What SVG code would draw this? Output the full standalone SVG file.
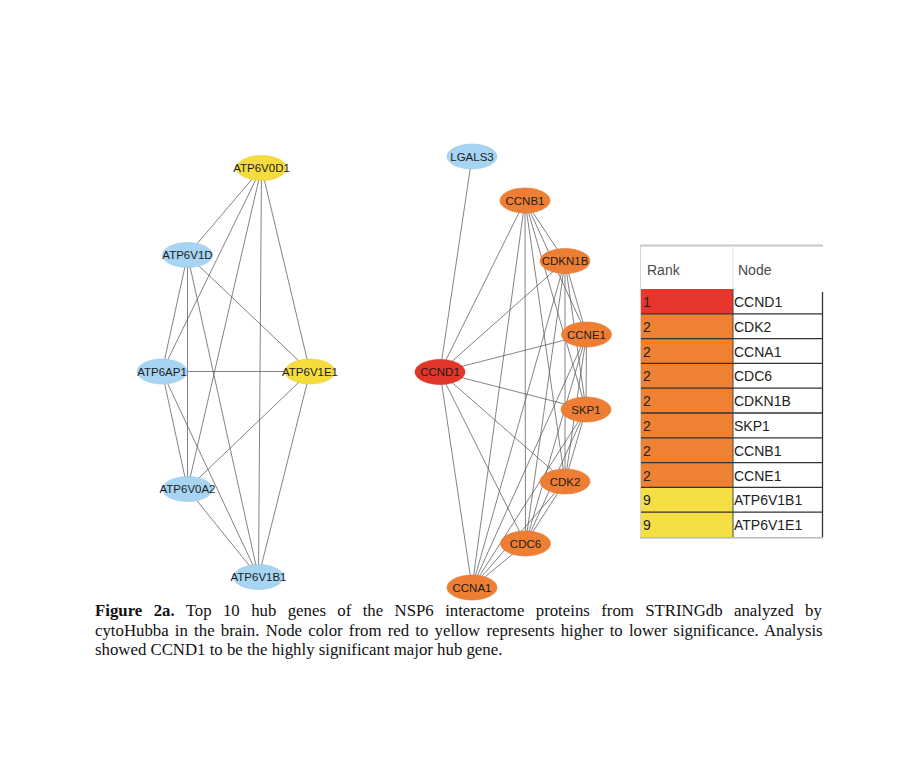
<svg xmlns="http://www.w3.org/2000/svg" width="914" height="770" viewBox="0 0 914 770">
<style>
.e{stroke:#5a5a5a;stroke-width:0.75;fill:none}
.n{stroke-width:0.6}
.blue{fill:#a6d4f2;stroke:#98c8e8}
.yel{fill:#f4dc3c;stroke:#e8cf30}
.org{fill:#ee7e33;stroke:#e07228}
.red{fill:#e3362b;stroke:#cf2a20}
.lb{font-family:"Liberation Sans",Arial,sans-serif;font-size:11.5px;fill:#1c1c1c;text-anchor:middle}
.tt{font-family:"Liberation Sans",Arial,sans-serif;font-size:14px;fill:#222}
.th{font-family:"Liberation Sans",Arial,sans-serif;font-size:14px;fill:#4a4a4a}
.rl{stroke:#333;stroke-width:1.3}
.cap{font-family:"Liberation Serif","Times New Roman",serif;font-size:16.8px;fill:#111}
</style>
<rect width="914" height="770" fill="#fff"/>
<g id="connectors">
<line class="e" x1="261.5" y1="168" x2="187.5" y2="255"/>
<line class="e" x1="261.5" y1="168" x2="162" y2="371.5"/>
<line class="e" x1="261.5" y1="168" x2="310" y2="371.5"/>
<line class="e" x1="261.5" y1="168" x2="187.5" y2="489"/>
<line class="e" x1="261.5" y1="168" x2="258.5" y2="577"/>
<line class="e" x1="187.5" y1="255" x2="162" y2="371.5"/>
<line class="e" x1="187.5" y1="255" x2="310" y2="371.5"/>
<line class="e" x1="187.5" y1="255" x2="187.5" y2="489"/>
<line class="e" x1="187.5" y1="255" x2="258.5" y2="577"/>
<line class="e" x1="162" y1="371.5" x2="310" y2="371.5"/>
<line class="e" x1="162" y1="371.5" x2="187.5" y2="489"/>
<line class="e" x1="162" y1="371.5" x2="258.5" y2="577"/>
<line class="e" x1="310" y1="371.5" x2="187.5" y2="489"/>
<line class="e" x1="310" y1="371.5" x2="258.5" y2="577"/>
<line class="e" x1="187.5" y1="489" x2="258.5" y2="577"/>
<line class="e" x1="472" y1="156.5" x2="440" y2="372"/>
<line class="e" x1="440" y1="372" x2="525" y2="200.5"/>
<line class="e" x1="440" y1="372" x2="565" y2="261"/>
<line class="e" x1="440" y1="372" x2="586.5" y2="334.5"/>
<line class="e" x1="440" y1="372" x2="586" y2="409.5"/>
<line class="e" x1="440" y1="372" x2="565" y2="481.5"/>
<line class="e" x1="440" y1="372" x2="525.5" y2="543.5"/>
<line class="e" x1="440" y1="372" x2="472" y2="587.5"/>
<line class="e" x1="525" y1="200.5" x2="565" y2="261"/>
<line class="e" x1="525" y1="200.5" x2="586.5" y2="334.5"/>
<line class="e" x1="525" y1="200.5" x2="586" y2="409.5"/>
<line class="e" x1="525" y1="200.5" x2="565" y2="481.5"/>
<line class="e" x1="525" y1="200.5" x2="525.5" y2="543.5"/>
<line class="e" x1="525" y1="200.5" x2="472" y2="587.5"/>
<line class="e" x1="565" y1="261" x2="586.5" y2="334.5"/>
<line class="e" x1="565" y1="261" x2="586" y2="409.5"/>
<line class="e" x1="565" y1="261" x2="565" y2="481.5"/>
<line class="e" x1="565" y1="261" x2="525.5" y2="543.5"/>
<line class="e" x1="565" y1="261" x2="472" y2="587.5"/>
<line class="e" x1="586.5" y1="334.5" x2="586" y2="409.5"/>
<line class="e" x1="586.5" y1="334.5" x2="565" y2="481.5"/>
<line class="e" x1="586.5" y1="334.5" x2="525.5" y2="543.5"/>
<line class="e" x1="586.5" y1="334.5" x2="472" y2="587.5"/>
<line class="e" x1="586" y1="409.5" x2="565" y2="481.5"/>
<line class="e" x1="586" y1="409.5" x2="525.5" y2="543.5"/>
<line class="e" x1="586" y1="409.5" x2="472" y2="587.5"/>
<line class="e" x1="565" y1="481.5" x2="525.5" y2="543.5"/>
<line class="e" x1="565" y1="481.5" x2="472" y2="587.5"/>
<line class="e" x1="525.5" y1="543.5" x2="472" y2="587.5"/>
</g>
<g id="ATP6V0D1"><ellipse class="n yel" cx="261.5" cy="168" rx="25" ry="12.5"/><text class="lb" x="261.5" y="172">ATP6V0D1</text></g>
<g id="ATP6V1D"><ellipse class="n blue" cx="187.5" cy="255" rx="25" ry="12.5"/><text class="lb" x="187.5" y="259">ATP6V1D</text></g>
<g id="ATP6AP1"><ellipse class="n blue" cx="162" cy="371.5" rx="25" ry="12.5"/><text class="lb" x="162" y="375.5">ATP6AP1</text></g>
<g id="ATP6V1E1"><ellipse class="n yel" cx="310" cy="371.5" rx="25" ry="12.5"/><text class="lb" x="310" y="375.5">ATP6V1E1</text></g>
<g id="ATP6V0A2"><ellipse class="n blue" cx="187.5" cy="489" rx="25" ry="12.5"/><text class="lb" x="187.5" y="493">ATP6V0A2</text></g>
<g id="ATP6V1B1"><ellipse class="n blue" cx="258.5" cy="577" rx="25" ry="12.5"/><text class="lb" x="258.5" y="581">ATP6V1B1</text></g>
<g id="LGALS3"><ellipse class="n blue" cx="472" cy="156.5" rx="25" ry="12.5"/><text class="lb" x="472" y="160.5">LGALS3</text></g>
<g id="CCNB1"><ellipse class="n org" cx="525" cy="200.5" rx="25" ry="12.5"/><text class="lb" x="525" y="204.5">CCNB1</text></g>
<g id="CDKN1B"><ellipse class="n org" cx="565" cy="261" rx="25" ry="12.5"/><text class="lb" x="565" y="265">CDKN1B</text></g>
<g id="CCNE1"><ellipse class="n org" cx="586.5" cy="334.5" rx="25" ry="12.5"/><text class="lb" x="586.5" y="338.5">CCNE1</text></g>
<g id="CCND1"><ellipse class="n red" cx="440" cy="372" rx="25" ry="12.5"/><text class="lb" x="440" y="376">CCND1</text></g>
<g id="SKP1"><ellipse class="n org" cx="586" cy="409.5" rx="25" ry="12.5"/><text class="lb" x="586" y="413.5">SKP1</text></g>
<g id="CDK2"><ellipse class="n org" cx="565" cy="481.5" rx="25" ry="12.5"/><text class="lb" x="565" y="485.5">CDK2</text></g>
<g id="CDC6"><ellipse class="n org" cx="525.5" cy="543.5" rx="25" ry="12.5"/><text class="lb" x="525.5" y="547.5">CDC6</text></g>
<g id="CCNA1"><ellipse class="n org" cx="472" cy="587.5" rx="25" ry="12.5"/><text class="lb" x="472" y="591.5">CCNA1</text></g>
<g id="table">
<rect x="640" y="245" width="183" height="293" fill="#fff"/>
<line x1="640" y1="245.5" x2="823" y2="245.5" stroke="#c8c8c8" stroke-width="2"/>
<line x1="640.5" y1="245" x2="640.5" y2="538" stroke="#d4d4d4" stroke-width="1"/>
<line x1="733" y1="246" x2="733" y2="289" stroke="#e2e2e2" stroke-width="1"/>
<text class="th" x="647" y="275">Rank</text>
<text class="th" x="738" y="275">Node</text>
<rect x="641" y="289" width="92" height="24.8" fill="#e8362c"/>
<rect x="641" y="313.8" width="92" height="173.6" fill="#ef8133"/>
<rect x="641" y="487.4" width="92" height="49.6" fill="#f5df45"/>
<line x1="733" y1="289" x2="733" y2="537" stroke="#444" stroke-width="1"/>
<line x1="822.5" y1="292" x2="822.5" y2="537" stroke="#333" stroke-width="1.3"/>
<line class="rl" x1="641" y1="313.8" x2="823" y2="313.8"/>
<line class="rl" x1="641" y1="338.6" x2="823" y2="338.6"/>
<line class="rl" x1="641" y1="363.4" x2="823" y2="363.4"/>
<line class="rl" x1="641" y1="388.2" x2="823" y2="388.2"/>
<line class="rl" x1="641" y1="413" x2="823" y2="413"/>
<line class="rl" x1="641" y1="437.8" x2="823" y2="437.8"/>
<line class="rl" x1="641" y1="462.6" x2="823" y2="462.6"/>
<line class="rl" x1="641" y1="487.4" x2="823" y2="487.4"/>
<line class="rl" x1="641" y1="512.2" x2="823" y2="512.2"/>
<line x1="640" y1="537.8" x2="823" y2="537.8" stroke="#b8b8b8" stroke-width="1.5"/>
<text class="tt" x="643" y="307">1</text><text class="tt" x="734" y="307">CCND1</text>
<text class="tt" x="643" y="331.8">2</text><text class="tt" x="734" y="331.8">CDK2</text>
<text class="tt" x="643" y="356.6">2</text><text class="tt" x="734" y="356.6">CCNA1</text>
<text class="tt" x="643" y="381.4">2</text><text class="tt" x="734" y="381.4">CDC6</text>
<text class="tt" x="643" y="406.2">2</text><text class="tt" x="734" y="406.2">CDKN1B</text>
<text class="tt" x="643" y="431">2</text><text class="tt" x="734" y="431">SKP1</text>
<text class="tt" x="643" y="455.8">2</text><text class="tt" x="734" y="455.8">CCNB1</text>
<text class="tt" x="643" y="480.6">2</text><text class="tt" x="734" y="480.6">CCNE1</text>
<text class="tt" x="643" y="505.4">9</text><text class="tt" x="734" y="505.4">ATP6V1B1</text>
<text class="tt" x="643" y="530.2">9</text><text class="tt" x="734" y="530.2">ATP6V1E1</text>
</g>
<g id="caption">
<text class="cap" x="95" y="616" word-spacing="7.2"><tspan font-weight="bold">Figure 2a.</tspan> Top 10 hub genes of the NSP6 interactome proteins from STRINGdb analyzed by</text>
<text class="cap" x="95" y="636" word-spacing="2">cytoHubba in the brain. Node color from red to yellow represents higher to lower significance. Analysis</text>
<text class="cap" x="95" y="655">showed CCND1 to be the highly significant major hub gene.</text>
</g>
</svg>
